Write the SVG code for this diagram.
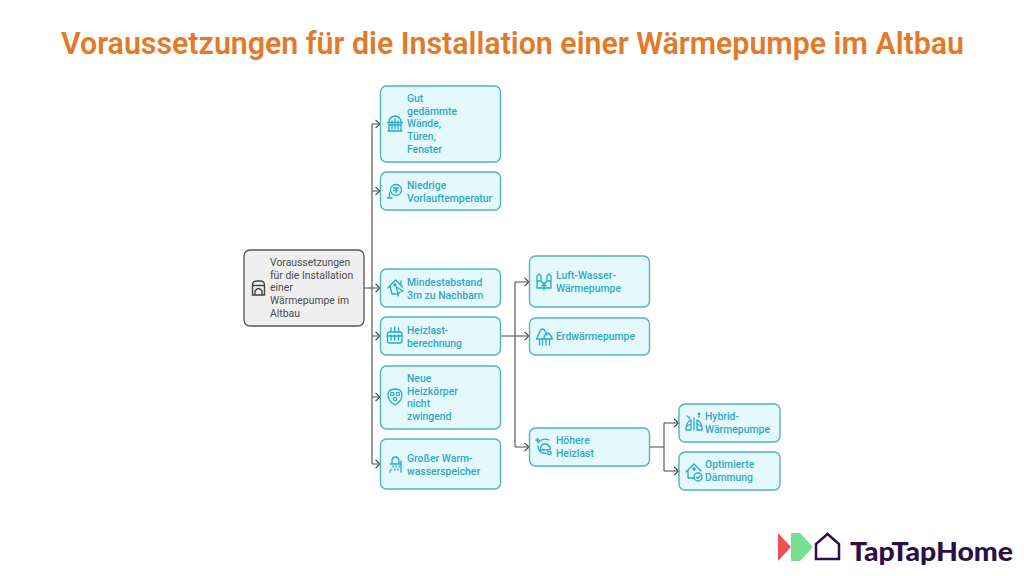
<svg xmlns="http://www.w3.org/2000/svg" width="1024" height="576" viewBox="0 0 1024 576">
<style>
text{font-family:Roboto,"Liberation Sans",sans-serif}
.t{font-size:10.400px;font-weight:500;fill:#2fa9c4}
.r{font-size:10.400px;font-weight:400;fill:#4d4d4d}
.b{fill:#e5f9fd;stroke:#4fb3c4;stroke-width:1.400}
.i{fill:none;stroke:#22acca;stroke-width:1.300;stroke-linecap:round;stroke-linejoin:round}
.c{fill:none;stroke:#4a4a4a;stroke-width:1.100}
.h{fill:none;stroke:#3d3d3d;stroke-width:1.100}
</style>
<defs>
<path id="ah" d="M-4.500-4.200L0 0L-4.500 4.200" class="h"/>
</defs>
<text id="title" x="61" y="54" font-size="32" font-weight="600" fill="#e27a29" textLength="903" lengthAdjust="spacingAndGlyphs">Voraussetzungen für die Installation einer Wärmepumpe im Altbau</text>
<g id="connectors">
<path class="c" d="M364 288H379M372 124V464M372 124H379M372 191H379M372 336H379M372 397H379M372 464H379"/>
<path class="c" d="M500.500 336H528M515 282V447M515 282H528M515 447H528"/>
<path class="c" d="M650 447H664M664 423V471M664 423H678M664 471H678"/>
<use href="#ah" x="380" y="124"/><use href="#ah" x="380" y="191"/><use href="#ah" x="380" y="288"/><use href="#ah" x="380" y="336"/><use href="#ah" x="380" y="397"/><use href="#ah" x="380" y="464"/>
<use href="#ah" x="529" y="282"/><use href="#ah" x="529" y="336"/><use href="#ah" x="529" y="447"/>
<use href="#ah" x="678.500" y="423"/><use href="#ah" x="678.500" y="471"/>
</g>
<g id="root">
<rect x="244" y="250" width="120" height="76" rx="6" fill="#efefef" stroke="#555" stroke-width="1.300"/>
<path d="M252.500 295V285Q252.500 281 257 281H260Q264.500 281 264.500 285V295ZM252.500 285.500H264.500M255 295V291Q258.500 286 262 291V295" fill="none" stroke="#444" stroke-width="1.400"/>
<text class="r" x="270" y="266">Voraussetzungen</text><text class="r" x="270" y="279">für die Installation</text><text class="r" x="270" y="291">einer</text><text class="r" x="270" y="304">Wärmepumpe im</text><text class="r" x="270" y="317">Altbau</text>
</g>
<g id="n1">
<rect class="b" x="380.500" y="86" width="120" height="76" rx="6"/>
<path class="i" d="M389 131V122Q389 117 395 116Q401 117 401 122V131ZM387.500 122.500H402.500M388 131H402M392 121V129M395 119V129M398 121V129M390 125H400"/>
<text class="t" x="407" y="102">Gut</text><text class="t" x="407" y="115">gedämmte</text><text class="t" x="407" y="127">Wände,</text><text class="t" x="407" y="140">Türen,</text><text class="t" x="407" y="153">Fenster</text>
</g>
<g id="n2">
<rect class="b" x="380.500" y="172" width="120" height="38" rx="6"/>
<circle class="i" cx="396" cy="190" r="5.500"/><path class="i" d="M393.500 188H398.500M396 188V193M393.500 190.500H397.500M389.500 193V197M387.500 198H392"/>
<text class="t" x="407" y="189">Niedrige</text><text class="t" x="407" y="202">Vorlauftemperatur</text>
</g>
<g id="n3">
<rect class="b" x="380.500" y="269" width="120" height="38" rx="6"/>
<path class="i" d="M388 288L395.500 280L402.500 287M390 286L392 294H396M401 284V281M396.500 287L403 291L399 292.500L398 296Z"/><circle class="i" cx="395" cy="285" r="1"/>
<text class="t" x="407" y="286">Mindestabstand</text><text class="t" x="407" y="299">3m zu Nachbarn</text>
</g>
<g id="n4">
<rect class="b" x="380.500" y="317" width="120" height="38" rx="6"/>
<rect class="i" x="387.500" y="332" width="14.500" height="11" rx="2"/><path class="i" d="M391 335V340M394.700 335V340M398.500 335V340M391 328V332M394.700 327V332M398.500 328V332M387 336H402"/>
<text class="t" x="407" y="334">Heizlast-</text><text class="t" x="407" y="347">berechnung</text>
</g>
<g id="n5">
<rect class="b" x="380.500" y="366" width="120" height="63" rx="6"/>
<path class="i" d="M388 395Q388 389 395 389Q402 389 402 395Q402 401 395 405Q388 401 388 395Z"/><circle class="i" cx="392.200" cy="394" r="1.700"/><circle class="i" cx="397.800" cy="394" r="1.700"/><circle class="i" cx="395" cy="399" r="1.700"/>
<text class="t" x="407" y="382">Neue</text><text class="t" x="407" y="395">Heizkörper</text><text class="t" x="407" y="407">nicht</text><text class="t" x="407" y="420">zwingend</text>
</g>
<g id="n6">
<rect class="b" x="380.500" y="439" width="120" height="50" rx="6"/>
<path class="i" d="M392 464V461Q392 457 395.500 457Q399 457 399 461V464ZM390.500 464H400.500M401 461V472M393 466V467M396 466V467M399 466V467M391 469V470M395 469V470M398 469V470M390 471V472"/>
<text class="t" x="407" y="462">Großer Warm-</text><text class="t" x="407" y="475">wasserspeicher</text>
</g>
<g id="n7">
<rect class="b" x="529.500" y="256" width="120" height="51" rx="6"/>
<path class="i" d="M537 281V276L539 274L541 276V281M547 281V276L549 274L551 276V281M537 281H541L543 283H545L547 281H551V288H537ZM544 290V284M542 286L544 284L546 286"/>
<text class="t" x="556" y="279">Luft-Wasser-</text><text class="t" x="556" y="292">Wärmepumpe</text>
</g>
<g id="n8">
<rect class="b" x="529.500" y="318" width="120" height="37" rx="6"/>
<path class="i" d="M536.500 339L540 331Q543 327 545 331L547 335M544 339Q544 335 547 333Q550 333 552.500 339ZM536.500 339H552.500M539.500 339V345M542.500 339V345M546 339V345M549.500 339V345"/>
<text class="t" x="556" y="340">Erdwärmepumpe</text>
</g>
<g id="n9">
<rect class="b" x="529.500" y="428" width="120" height="38" rx="6"/>
<path class="i" d="M538 443A8.500 8.500 0 0 1 549 440M538 446Q538 453 546 453.500M540.500 450Q540 444 545 444Q549 444 550.500 449L548 450ZM536 440H539M537.500 438.500V441.500"/><circle class="i" cx="549.500" cy="453" r="1.800"/>
<text class="t" x="556" y="444">Höhere</text><text class="t" x="556" y="457">Heizlast</text>
</g>
<g id="n10">
<rect class="b" x="679" y="404" width="101" height="38" rx="6"/>
<path class="i" d="M686 430V427Q687 422 691 420V430ZM702 430V427Q701 422 697 420V430ZM687 426L691 424M701 426L697 424M694 418V430M687 416Q689 417 690 419M699 416V417"/><circle class="i" cx="699" cy="414" r="0.800"/>
<text class="t" x="705" y="420">Hybrid-</text><text class="t" x="705" y="433">Wärmepumpe</text>
</g>
<g id="n11">
<rect class="b" x="679" y="452" width="101" height="38" rx="6"/>
<path class="i" d="M686 472L694 464L701 471M688 470V478H694"/><circle class="i" cx="698" cy="477" r="4"/><path class="i" d="M696.300 477L697.700 478.500L700 475.800"/><circle class="i" cx="694" cy="469" r="1"/>
<text class="t" x="705" y="468">Optimierte</text><text class="t" x="705" y="481">Dämmung</text>
</g>
<g id="logo">
<path d="M778 533L791 547L778 561Z" fill="#f04f4f"/>
<path d="M791 533H800L813 547L800 561H791V533Z" fill="#78de93"/>
<path d="M816 559V544L827.500 534L839 544V559Z" fill="none" stroke="#2b0f45" stroke-width="2.500"/>
<text x="850" y="561" font-size="27" font-weight="900" fill="#2b0f45" textLength="163" lengthAdjust="spacingAndGlyphs" style="font-family:Lato,'Liberation Sans',sans-serif">TapTapHome</text>
</g>
</svg>
